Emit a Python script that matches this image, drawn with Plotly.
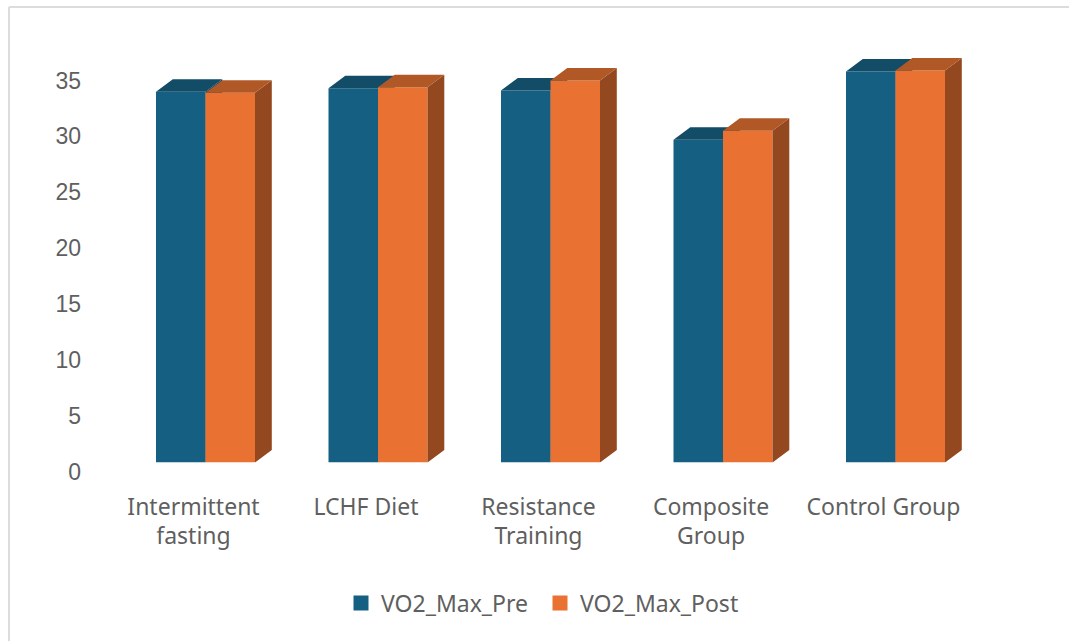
import plotly.graph_objects as go

# VO2 max before and after each intervention
categories = ["Intermittent<br>fasting", "LCHF Diet", "Resistance<br>Training", "Composite<br>Group", "Control Group"]
vo2_max_pre = [33.2, 33.5, 33.3, 28.9, 35.0]
vo2_max_post = [33.1, 33.6, 34.2, 29.7, 35.1]
y_ticks = [0, 5, 10, 15, 20, 25, 30, 35]

W, H = 1069, 641
PLOT_L, PLOT_R, PLOT_T, PLOT_B = 130, 1000, 40, 462.5
X0, X_STEP = 205.5, 172.5   # pixel position of the first category, category spacing
Y_SCALE = 11.17             # pixels per VO2 unit
BAR_W = 49.5 / X_STEP       # bar width in category units
DX = 16.8 / X_STEP          # extrusion depth, horizontal
DY = 12.5 / Y_SCALE         # extrusion depth, vertical

BLUE, BLUE_TOP, BLUE_SIDE = "#156082", "#124C66", "#0F4760"
ORANGE, ORANGE_TOP, ORANGE_SIDE = "#E97132", "#B15827", "#94481F"
TEXT = "#5f5f5f"


def extrusion(lefts, values, face):
    """Closed polygons for the top or right face of a row of bars."""
    xs, ys = [], []
    for left, v in zip(lefts, values):
        right = left + BAR_W
        if face == "top":
            xs += [left, left + DX, right + DX, right, left, None]
            ys += [v, v + DY, v + DY, v, v, None]
        else:
            xs += [right, right + DX, right + DX, right, right, None]
            ys += [0, DY, v + DY, v, 0, None]
    return xs, ys


def add_series(fig, values, offset, front, top, side, xa, ya):
    idx = list(range(len(values)))
    fig.add_trace(go.Bar(x=idx, y=values, width=BAR_W, offset=offset, marker=dict(color=front, line_width=0),
                         showlegend=False, xaxis=xa, yaxis=ya))
    lefts = [i + offset for i in idx]
    for face, colour in (("side", side), ("top", top)):
        xs, ys = extrusion(lefts, values, face)
        fig.add_trace(go.Scatter(x=xs, y=ys, mode="lines", fill="toself", fillcolor=colour,
                                 line=dict(width=0, color=colour), showlegend=False,
                                 hoverinfo="skip", xaxis=xa, yaxis=ya))


fig = go.Figure()
# The Post series sits on an overlaid axis pair so its faces cover the Pre series
add_series(fig, vo2_max_pre, -BAR_W, BLUE, BLUE_TOP, BLUE_SIDE, "x", "y")
add_series(fig, vo2_max_post, 0, ORANGE, ORANGE_TOP, ORANGE_SIDE, "x2", "y2")

for name, colour in (("VO2_Max_Pre", BLUE), ("VO2_Max_Post", ORANGE)):
    fig.add_trace(go.Scatter(x=[None], y=[None], mode="markers", name=name,
                             marker=dict(symbol="square", size=15, color=colour)))

x_range = [(PLOT_L - X0) / X_STEP, (PLOT_R - X0) / X_STEP]
y_range = [0, (PLOT_B - PLOT_T) / Y_SCALE]
x_domain = [PLOT_L / W, PLOT_R / W]
y_domain = [(H - PLOT_B) / H, (H - PLOT_T) / H]

fig.update_layout(
    width=W, height=H,
    margin=dict(l=0, r=0, t=0, b=0, autoexpand=False),
    paper_bgcolor="white", plot_bgcolor="rgba(0,0,0,0)",
    showlegend=True,
    legend=dict(orientation="h", x=341 / W, xanchor="left",
                y=(H - 603) / H, yanchor="middle", entrywidth=154, entrywidthmode="pixels",
                font=dict(family="Noto Sans", size=23, color=TEXT), itemwidth=30),
    xaxis=dict(domain=x_domain, range=x_range, tickmode="array", tickvals=list(range(len(categories))),
               ticktext=categories, showgrid=False, zeroline=False, showline=False, ticks="",
               ticklabelshift=-12, ticklabelstandoff=28, automargin=False,
               tickangle=0, tickfont=dict(family="Noto Sans", size=23, color=TEXT)),
    yaxis=dict(domain=y_domain, range=y_range, tickmode="array", tickvals=y_ticks,
               showgrid=False, zeroline=False, showline=False, ticks="",
               ticklabelshift=9, ticklabelstandoff=48, automargin=False,
               tickfont=dict(family="Liberation Sans", size=23, color=TEXT)),
    xaxis2=dict(domain=x_domain, range=x_range, overlaying="x", visible=False, anchor="y2", automargin=False),
    yaxis2=dict(domain=y_domain, range=y_range, overlaying="y", visible=False, anchor="x2", automargin=False),
    shapes=[
        dict(type="line", xref="paper", yref="paper", x0=9 / W, x1=1, y0=(H - 7) / H, y1=(H - 7) / H,
             line=dict(color="#dcdcdc", width=2)),
        dict(type="line", xref="paper", yref="paper", x0=9 / W, x1=9 / W, y0=0, y1=(H - 7) / H,
             line=dict(color="#dcdcdc", width=2)),
    ],
)

fig.write_html("out.html")
